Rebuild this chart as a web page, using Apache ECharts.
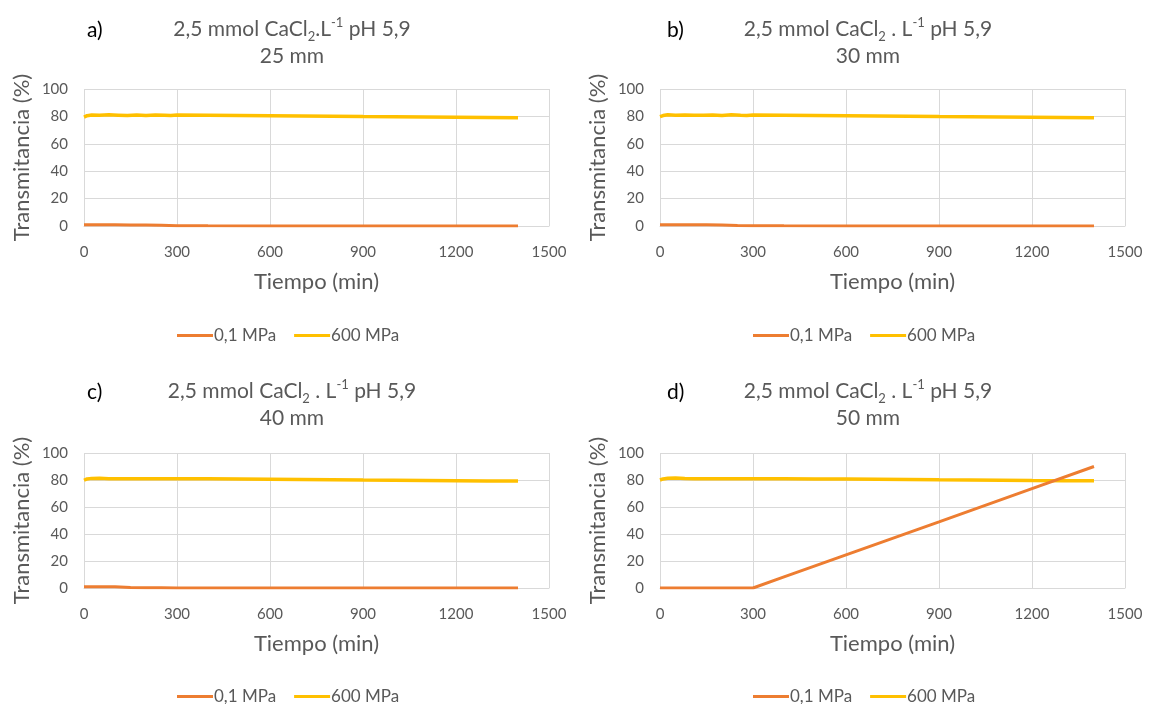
<!DOCTYPE html>
<html>
<head>
<meta charset="utf-8">
<script src="https://cdn.jsdelivr.net/npm/echarts@6/dist/echarts.min.js"></script>
<style>
  html, body { margin: 0; padding: 0; background: #fff; }
  #chart { width: 1149px; height: 704px; }
</style>
</head>
<body>
<div id="chart"></div>
<script>
// tiempo (min) / transmitancia (%)
var xTicks = [0, 300, 600, 900, 1200, 1500];
var yTicks = [0, 20, 40, 60, 80, 100];
var panelLetters = ["a)", "b)", "c)", "d)"];
var panelMm = ["25 mm", "30 mm", "40 mm", "50 mm"];

var time600 = [0, 10, 25, 50, 80, 110, 140, 170, 200, 230, 260, 280, 300, 400, 500, 600, 700, 800, 900, 1000, 1100, 1200, 1300, 1400];
var t600a = [79.5, 80.5, 81, 80.8, 81.2, 80.9, 80.6, 81, 80.7, 81, 80.8, 80.6, 81, 80.9, 80.7, 80.5, 80.3, 80.1, 79.9, 79.8, 79.6, 79.4, 79.2, 79];
var t600b = [79.8, 80.6, 81.2, 80.9, 81.1, 80.8, 80.9, 81.1, 80.7, 81.2, 80.8, 80.7, 81, 80.9, 80.7, 80.5, 80.3, 80.1, 79.9, 79.8, 79.6, 79.4, 79.2, 79];
var t600c = [79.8, 80.8, 81.2, 81.3, 81, 81, 81, 81, 81, 81, 81, 81, 81, 81, 80.8, 80.6, 80.4, 80.2, 80, 79.9, 79.7, 79.5, 79.3, 79.2];
var t600d = [80, 80.8, 81.3, 81.5, 81.2, 81, 81, 81, 81, 81, 81, 81, 81, 81, 80.8, 80.7, 80.5, 80.3, 80.1, 80, 79.8, 79.6, 79.5, 79.4];

var timeLow = [0, 50, 100, 150, 200, 250, 300, 400, 600, 900, 1200, 1400];
var t01a = [1, 1, 0.9, 0.8, 0.8, 0.5, 0.2, 0.1, 0, 0, 0, 0];
var t01b = [1, 1, 1, 0.9, 0.8, 0.4, 0.2, 0.1, 0, 0, 0, 0];
var t01c = [1, 1, 0.9, 0.3, 0.1, 0.1, 0, 0, 0, 0, 0, 0];
var t01d = [0, 0, 0, 0, 0, 0, 0, 8.2, 24.5, 49, 73.6, 90];

var seriesLow = [t01a, t01b, t01c, t01d];
var series600 = [t600a, t600b, t600c, t600d];

function pairs(xs, ys) {
  return xs.map(function (x, i) { return [x, ys[i]]; });
}

var textColor = "#595959";
var fontFam = "Lato, 'Open Sans', sans-serif";
var orange = "#ED7D31";
var yellow = "#FFC000";

// plot areas (px)
var grids = [
  { left: 84, top: 89, width: 465, height: 137 },
  { left: 660, top: 89, width: 465, height: 137 },
  { left: 84, top: 453, width: 465, height: 135 },
  { left: 660, top: 453, width: 465, height: 135 }
];
var titlePos = [
  { letterX: 82, cx: 287, top: 11 },
  { letterX: 662, cx: 863, top: 11 },
  { letterX: 82, cx: 287, top: 373 },
  { letterX: 662, cx: 863, top: 373 }
];
var legendPos = [
  { left: 172, top: 322 },
  { left: 748, top: 322 },
  { left: 172, top: 683 },
  { left: 748, top: 683 }
];

var rich = {
  t: { fontSize: 21, fontWeight: "normal", color: textColor, fontFamily: fontFam, lineHeight: 27 },
  sub: { fontSize: 13, fontWeight: "normal", color: textColor, fontFamily: fontFam, verticalAlign: "bottom", lineHeight: 27, padding: [9, 0, 0, 0] },
  sup: { fontSize: 13, fontWeight: "normal", color: textColor, fontFamily: fontFam, verticalAlign: "top", lineHeight: 27, padding: [0, 0, 8, 0] }
};

var titles = [];
var xAxes = [];
var yAxes = [];
var series = [];
var legends = [];

for (var i = 0; i < 4; i++) {
  var sep = i === 0 ? "{t|.L}" : "{t| . L}";
  titles.push({
    text: "{t|2,5 mmol CaCl}{sub|2}" + sep + "{sup|-1}{t| pH 5,9}\n{t|" + panelMm[i] + "}",
    left: titlePos[i].cx,
    top: titlePos[i].top,
    textAlign: "center",
    textStyle: { rich: rich, align: "center", fontWeight: "normal" }
  });
  titles.push({
    text: panelLetters[i],
    left: titlePos[i].letterX,
    top: titlePos[i].top + 4,
    textStyle: { fontSize: 21, fontWeight: "normal", color: "#000", fontFamily: fontFam }
  });
  xAxes.push({
    type: "value",
    gridIndex: i,
    min: xTicks[0],
    max: xTicks[xTicks.length - 1],
    interval: xTicks[1] - xTicks[0],
    name: "Tiempo (min)",
    nameLocation: "middle",
    nameGap: 45,
    nameTextStyle: { fontSize: 22, color: textColor, fontFamily: fontFam },
    axisLine: { show: true, lineStyle: { color: "#d9d9d9" } },
    axisTick: { show: false },
    axisLabel: { fontSize: 15, color: textColor, fontFamily: fontFam, margin: 19, formatter: function (v) { return String(v); } },
    splitLine: { show: true, lineStyle: { color: "#d9d9d9" } }
  });
  yAxes.push({
    type: "value",
    gridIndex: i,
    min: yTicks[0],
    max: yTicks[yTicks.length - 1],
    interval: yTicks[1] - yTicks[0],
    name: "Transmitancia (%)",
    nameLocation: "middle",
    nameRotate: 90,
    nameGap: 51,
    nameTextStyle: { fontSize: 22, color: textColor, fontFamily: fontFam },
    axisLine: { show: false },
    axisTick: { show: false },
    axisLabel: { fontSize: 15, color: textColor, fontFamily: fontFam, margin: 16 },
    splitLine: { show: true, lineStyle: { color: "#d9d9d9" } }
  });
  series.push({
    name: "0,1 MPa",
    type: "line",
    xAxisIndex: i,
    yAxisIndex: i,
    data: pairs(timeLow, seriesLow[i]),
    showSymbol: false,
    lineStyle: { color: orange, width: 3 },
    itemStyle: { color: orange },
    z: i === 3 ? 3 : 2
  });
  series.push({
    name: "600 MPa",
    type: "line",
    xAxisIndex: i,
    yAxisIndex: i,
    data: pairs(time600, series600[i]),
    showSymbol: false,
    lineStyle: { color: yellow, width: 3.5 },
    itemStyle: { color: yellow },
    z: 2
  });
  legends.push({
    data: ["0,1 MPa", "600 MPa"],
    left: legendPos[i].left,
    top: legendPos[i].top,
    icon: "rect",
    itemWidth: 36,
    itemHeight: 3,
    itemGap: 18,
    textStyle: { fontSize: 17, color: textColor, fontFamily: fontFam, padding: [0, 0, 0, -4] }
  });
}

var chart = echarts.init(document.getElementById("chart"));
chart.setOption({
  backgroundColor: "#fff",
  animation: false,
  title: titles,
  legend: legends,
  grid: grids,
  xAxis: xAxes,
  yAxis: yAxes,
  series: series
});
</script>
</body>
</html>
